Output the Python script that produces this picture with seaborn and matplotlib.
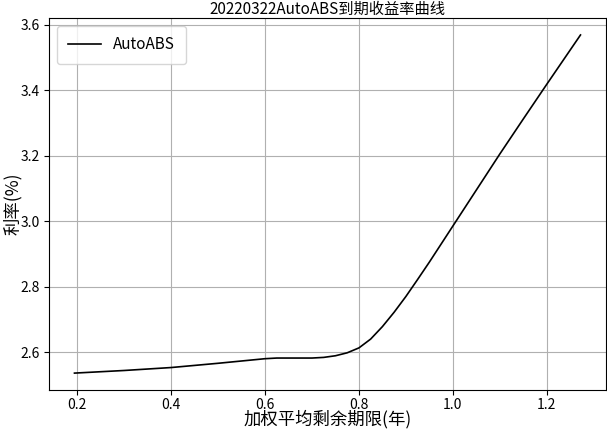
import numpy as np
import pandas as pd
import matplotlib
matplotlib.use("Agg")
import matplotlib.pyplot as plt
import seaborn as sns

# 加权平均剩余期限 (年) 与 利率 (%)
term = [0.194, 0.3, 0.4, 0.5, 0.6, 0.625, 0.65, 0.7, 0.725, 0.75, 0.775,
        0.8, 0.825, 0.85, 0.875, 0.9, 0.925, 0.95, 1.0, 1.05, 1.1, 1.15,
        1.2, 1.272]
rate = [2.536, 2.544, 2.553, 2.566, 2.580, 2.582, 2.582, 2.582, 2.584,
        2.589, 2.598, 2.613, 2.640, 2.678, 2.722, 2.770, 2.822, 2.875,
        2.985, 3.095, 3.205, 3.312, 3.418, 3.569]
series_name = 'AutoABS'
title = '20220322AutoABS到期收益率曲线'

plt.rcParams['font.family'] = ['Noto Sans CJK SC', 'DejaVu Sans']
plt.rcParams['axes.unicode_minus'] = False

df = pd.DataFrame({'term': term, 'rate': rate, 'name': series_name})

fig = plt.figure(figsize=(6.07, 4.30), dpi=100)
ax = fig.add_axes([0.081, 0.093, 0.917, 0.865])
sns.lineplot(data=df, x='term', y='rate', hue='name', palette=['black'],
             linewidth=1.2, sort=True, ax=ax)
ax.grid(True, color='#b0b0b0', linewidth=0.8)
ax.set_axisbelow(True)
ax.set_title(title, fontsize=11, pad=2)
ax.set_xlabel('加权平均剩余期限(年)', fontsize=12.5)
ax.set_ylabel('利率(%)', fontsize=12.5)
ax.xaxis.set_label_coords(0.5, -0.079)
ax.xaxis.label.set_va('center')
ax.yaxis.set_label_coords(-0.066, 0.5)
ax.yaxis.label.set_va('center')
ax.tick_params(labelsize=10)
ax.tick_params(axis='x', pad=2)
ax.legend(loc='upper left', fontsize=11, handlelength=2.2, borderpad=0.7)

fig.savefig('out.png', dpi=100)
